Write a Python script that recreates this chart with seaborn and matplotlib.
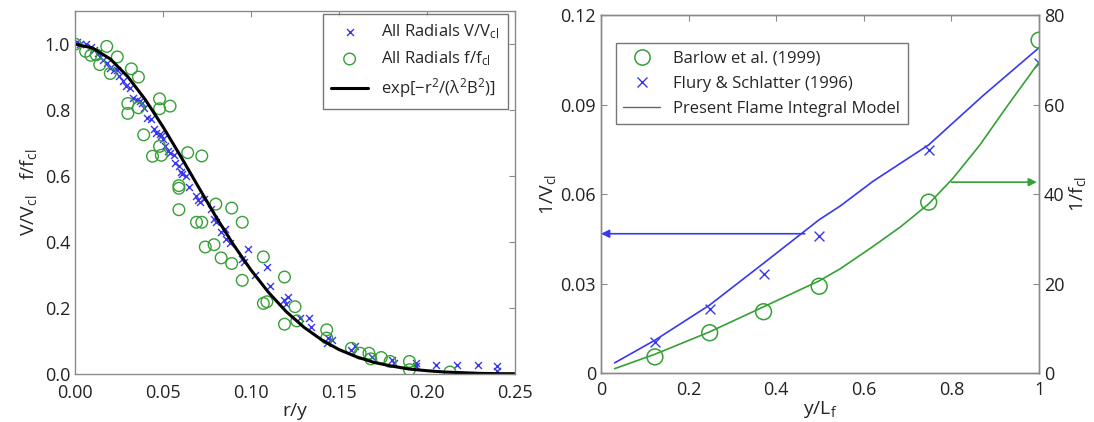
import numpy as np
import pandas as pd
import matplotlib
matplotlib.use("Agg")
import matplotlib.pyplot as plt
import seaborn as sns
from matplotlib.lines import Line2D

# ---- left panel: radial profiles ----
vel_r = [0.001, 0.003, 0.006, 0.009, 0.011, 0.013, 0.014, 0.016, 0.018, 0.020,
         0.022, 0.024, 0.025, 0.027, 0.029, 0.031, 0.033, 0.035, 0.037, 0.038,
         0.039, 0.041, 0.043, 0.045, 0.046, 0.048, 0.049, 0.050, 0.051, 0.053,
         0.054, 0.056, 0.057, 0.059, 0.060, 0.061, 0.063, 0.065, 0.069, 0.070,
         0.071, 0.073, 0.077, 0.079, 0.080, 0.083, 0.085, 0.086, 0.088, 0.095,
         0.096, 0.098, 0.102, 0.109, 0.111, 0.119, 0.121, 0.120, 0.128, 0.133,
         0.134, 0.143, 0.144, 0.146, 0.157, 0.159, 0.169, 0.180, 0.181, 0.194,
         0.194, 0.205, 0.217, 0.229, 0.240, 0.240]
vel_v = [1.005, 1.000, 1.000, 0.990, 0.983, 0.973, 0.960, 0.953, 0.943, 0.928,
         0.920, 0.922, 0.903, 0.887, 0.874, 0.867, 0.837, 0.832, 0.827, 0.822,
         0.807, 0.777, 0.772, 0.742, 0.732, 0.727, 0.722, 0.712, 0.691, 0.676,
         0.671, 0.663, 0.641, 0.631, 0.611, 0.606, 0.601, 0.566, 0.541, 0.526,
         0.521, 0.531, 0.501, 0.470, 0.460, 0.430, 0.440, 0.410, 0.398, 0.350,
         0.340, 0.380, 0.300, 0.325, 0.267, 0.224, 0.232, 0.211, 0.171, 0.171,
         0.144, 0.093, 0.108, 0.104, 0.073, 0.086, 0.053, 0.043, 0.033, 0.033,
         0.023, 0.026, 0.026, 0.026, 0.023, 0.008]

mix_r = [0.000, 0.006, 0.009, 0.012, 0.014, 0.018, 0.020, 0.024, 0.030, 0.030,
         0.032, 0.036, 0.036, 0.039, 0.044, 0.048, 0.048, 0.048, 0.049, 0.054,
         0.059, 0.059, 0.059, 0.064, 0.072, 0.069, 0.072, 0.074, 0.080, 0.079,
         0.083, 0.089, 0.089, 0.095, 0.095, 0.107, 0.107, 0.109, 0.119, 0.119,
         0.125, 0.126, 0.143, 0.143, 0.157, 0.162, 0.167, 0.168, 0.174, 0.179,
         0.190, 0.190, 0.213]
mix_f = [1.000, 0.978, 0.966, 0.968, 0.938, 0.993, 0.911, 0.961, 0.820, 0.790,
         0.925, 0.900, 0.807, 0.725, 0.660, 0.834, 0.804, 0.690, 0.663, 0.812,
         0.563, 0.498, 0.571, 0.671, 0.661, 0.460, 0.460, 0.385, 0.515, 0.392,
         0.352, 0.503, 0.335, 0.460, 0.284, 0.355, 0.214, 0.219, 0.294, 0.151,
         0.204, 0.161, 0.134, 0.109, 0.078, 0.063, 0.063, 0.046, 0.050, 0.038,
         0.038, 0.013, 0.006]

fit_r = [0.00, 0.01, 0.02, 0.03, 0.04, 0.05, 0.06, 0.07, 0.08, 0.09, 0.10, 0.11, 0.12,
         0.13, 0.14, 0.15, 0.16, 0.17, 0.18, 0.19, 0.20, 0.21, 0.22, 0.23, 0.24, 0.25]
fit_v = [1.000, 0.988, 0.955, 0.901, 0.831, 0.749, 0.660, 0.568, 0.477, 0.392, 0.315,
         0.247, 0.189, 0.142, 0.104, 0.074, 0.052, 0.035, 0.024, 0.015, 0.010, 0.006,
         0.004, 0.002, 0.001, 0.001]

# ---- right panel: centreline decay ----
flury_y = [0.123, 0.248, 0.371, 0.498, 0.748, 1.000]
flury_invV = [0.0104, 0.0216, 0.0332, 0.0460, 0.0747, 0.1039]
barlow_y = [0.123, 0.248, 0.371, 0.498, 0.748, 1.000]
barlow_invf = [3.6, 9.0, 13.7, 19.4, 38.2, 74.4]

model_y = [0.031, 0.123, 0.248, 0.371, 0.498, 0.546, 0.621, 0.748, 0.872, 1.000]
model_invV = [0.0034, 0.0110, 0.0228, 0.0368, 0.0514, 0.0560, 0.0643, 0.0765, 0.0930, 0.1091]
modelf_y = [0.031, 0.123, 0.248, 0.371, 0.498, 0.546, 0.621, 0.684, 0.748, 0.804,
            0.865, 0.926, 1.000]
model_invf = [0.97, 4.2, 9.2, 14.8, 20.6, 23.3, 28.3, 32.7, 37.8, 43.6, 51.0, 59.5, 69.5]

blue = "#3838f0"
green = "#35a035"
frame = "#8a8a8a"

sns.set_style("white")
plt.rcParams['font.family'] = ['Open Sans', 'DejaVu Sans']
plt.rcParams['mathtext.fontset'] = 'custom'
plt.rcParams['mathtext.rm'] = 'Open Sans'
plt.rcParams['mathtext.it'] = 'Open Sans'

fig = plt.figure(figsize=(10.94, 4.22), dpi=100)
ax1 = fig.add_axes([0.0686, 0.1137, 0.4022, 0.860])
ax2 = fig.add_axes([0.5494, 0.1161, 0.4004, 0.848])


def style_axes(ax):
    for sp in ax.spines.values():
        sp.set_color(frame)
        sp.set_linewidth(1.0)
    ax.tick_params(direction="in", length=4, width=0.8, color=frame,
                   labelsize=13, labelcolor="#222222")


# left
sns.scatterplot(x=vel_r, y=vel_v, ax=ax1, marker="x", s=25, color=blue,
                linewidth=1.0, label=r"All Radials V/V$_{\rm cl}$")
sns.scatterplot(x=mix_r, y=mix_f, ax=ax1, marker="o", s=70, fc="none",
                ec=green, linewidth=1.0, label=r"All Radials f/f$_{\rm cl}$")
sns.lineplot(x=fit_r, y=fit_v, ax=ax1, color="black", linewidth=2.2,
             label=r"exp[$-$r$^2$/($\lambda^2$B$^2$)]")
ax1.set_xlim(0, 0.25)
ax1.set_ylim(0, 1.1)
ax1.set_xticks(np.arange(0, 0.2501, 0.05))
ax1.set_xticklabels(["0.00", "0.05", "0.10", "0.15", "0.20", "0.25"])
ax1.set_yticks(np.arange(0, 1.01, 0.2))
ax1.set_yticklabels(["0.0", "0.2", "0.4", "0.6", "0.8", "1.0"])
ax1.tick_params(top=True, right=True)
style_axes(ax1)
ax1.tick_params(axis="x", pad=7)
ax1.set_xlabel("r/y", fontsize=14, labelpad=0)
ax1.set_ylabel(r"V/V$_{\rm cl}$   f/f$_{\rm cl}$", fontsize=14, labelpad=4)
leg1 = ax1.legend(loc="upper right", bbox_to_anchor=(0.984, 0.992), borderaxespad=0,
                  fontsize=12, frameon=True, fancybox=False,
                  borderpad=0.5, handlelength=2.2, labelspacing=0.5)
leg1.get_frame().set_edgecolor("#555555")
leg1.get_frame().set_linewidth(1.0)

# right
ax2r = ax2.twinx()
sns.lineplot(x=model_y, y=model_invV, ax=ax2, color=blue, linewidth=1.2, legend=False)
sns.scatterplot(x=flury_y, y=flury_invV, ax=ax2, marker="x", s=50, color=blue,
                linewidth=1.0, legend=False)
sns.lineplot(x=modelf_y, y=model_invf, ax=ax2r, color=green, linewidth=1.2, legend=False)
sns.scatterplot(x=barlow_y, y=barlow_invf, ax=ax2r, marker="o", s=130, fc="none",
                ec=green, linewidth=1.1, legend=False)
ax2.set_xlim(0, 1)
ax2.set_ylim(0, 0.12)
ax2r.set_ylim(0, 80)
ax2.set_xticks([0, 0.2, 0.4, 0.6, 0.8, 1.0])
ax2.set_xticklabels(["0", "0.2", "0.4", "0.6", "0.8", "1"])
ax2.set_yticks([0, 0.03, 0.06, 0.09, 0.12])
ax2.set_yticklabels(["0", "0.03", "0.06", "0.09", "0.12"])
ax2r.set_yticks([0, 20, 40, 60, 80])
ax2.tick_params(top=True)
style_axes(ax2)
style_axes(ax2r)
ax2.tick_params(axis="x", pad=6)
ax2.set_xlabel(r"y/L$_{\rm f}$", fontsize=14, labelpad=0)
ax2.set_ylabel(r"1/V$_{\rm cl}$", fontsize=14, labelpad=2)
ax2r.set_ylabel(r"1/f$_{\rm cl}$", fontsize=14, labelpad=2)

# arrows pointing to the axis each curve belongs to
ax2.annotate("", xy=(0.0, 0.0467), xytext=(0.465, 0.0467),
             arrowprops=dict(arrowstyle="-|>", color=blue, lw=1.2, mutation_scale=12,
                             shrinkA=0, shrinkB=0))
ax2.annotate("", xy=(0.995, 0.0640), xytext=(0.80, 0.0640),
             arrowprops=dict(arrowstyle="-|>", color=green, lw=1.2, mutation_scale=12,
                             shrinkA=0, shrinkB=0))

handles = [
    Line2D([], [], ls="none", marker="o", ms=11, mfc="none", mec=green, mew=1.1),
    Line2D([], [], ls="none", marker="x", ms=7, color=blue, mew=1.0),
    Line2D([], [], color="#666666", lw=1.0),
]
labels = ["Barlow et al. (1999)", "Flury & Schlatter (1996)", "Present Flame Integral Model"]
leg2 = ax2.legend(handles, labels, loc="upper left", bbox_to_anchor=(0.034, 0.922),
                  borderaxespad=0, fontsize=12, frameon=True, fancybox=False,
                  borderpad=0.45, handlelength=2.2, labelspacing=0.55)
leg2.get_frame().set_edgecolor("#555555")
leg2.get_frame().set_linewidth(1.0)

fig.savefig("out.png", dpi=100)
